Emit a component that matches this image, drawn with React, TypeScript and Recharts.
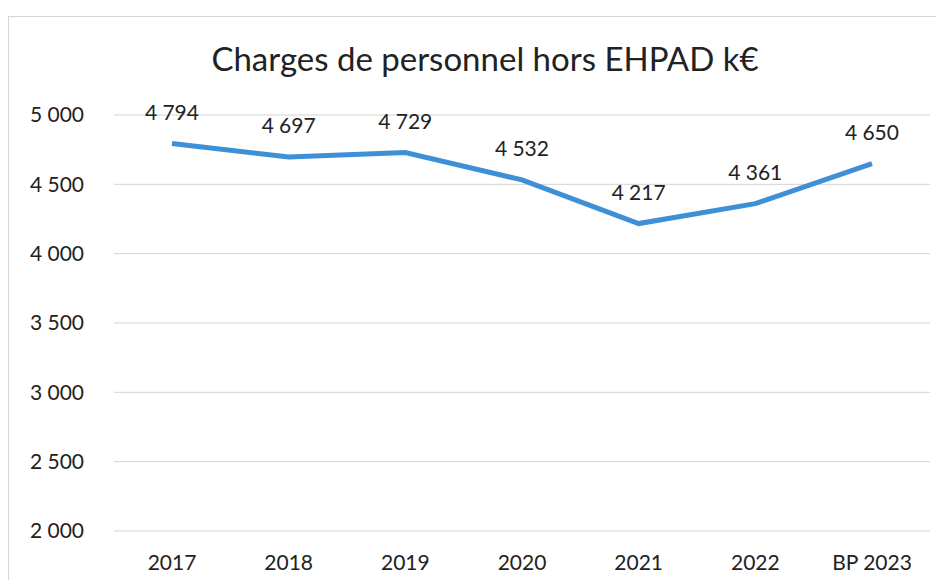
import { LineChart, Line, XAxis, YAxis, CartesianGrid, LabelList } from 'recharts';

const years = ['2017', '2018', '2019', '2020', '2021', '2022', 'BP 2023'];
const charges = [4794, 4697, 4729, 4532, 4217, 4361, 4650];
const yTicks = [2000, 2500, 3000, 3500, 4000, 4500, 5000];

const data = years.map((year, i) => ({ year, value: charges[i] }));

const fmt = (v: number) => String(v).replace(/\B(?=(\d{3})+(?!\d))/g, '\u202f');

const font = 'Lato, "Open Sans", sans-serif';

export default function App() {
  return (
    <div style={{ margin: -8, width: 944, height: 588, position: 'relative', background: '#fff', overflow: 'hidden', fontFamily: font }}>
      <div style={{ position: 'absolute', left: 8, top: 16, width: 960, height: 600, border: '1px solid #d6d6d6' }} />
      <div style={{ position: 'absolute', top: 38, left: 0, width: 970, textAlign: 'center', fontSize: 33, color: '#222' }}>
        Charges de personnel hors EHPAD k€
      </div>
      <div style={{ position: 'absolute', left: 0, top: 0 }}>
        <LineChart width={944} height={588} data={data} margin={{ top: 115, right: 14, left: 0, bottom: 0 }}>
          <CartesianGrid vertical={false} stroke="#d4d4d4" />
          <XAxis dataKey="year" axisLine={false} tickLine={false} height={57} tickMargin={18}
            padding={{ left: 58, right: 58 }}
            tick={{ fill: '#222', fontSize: 21, fontFamily: font }} interval={0} />
          <YAxis domain={[2000, 5000]} ticks={yTicks} width={114} axisLine={false} tickLine={false} tickMargin={24}
            tickFormatter={fmt} tick={{ fill: '#222', fontSize: 21, fontFamily: font }} />
          <Line type="linear" dataKey="value" stroke="#3d8fd6" strokeWidth={5} dot={false} isAnimationActive={false}>
            <LabelList dataKey="value" position="top" offset={24} formatter={(v: any) => fmt(v)}
              style={{ fill: '#222', fontSize: 21, fontFamily: font }} />
          </Line>
        </LineChart>
      </div>
    </div>
  );
}
